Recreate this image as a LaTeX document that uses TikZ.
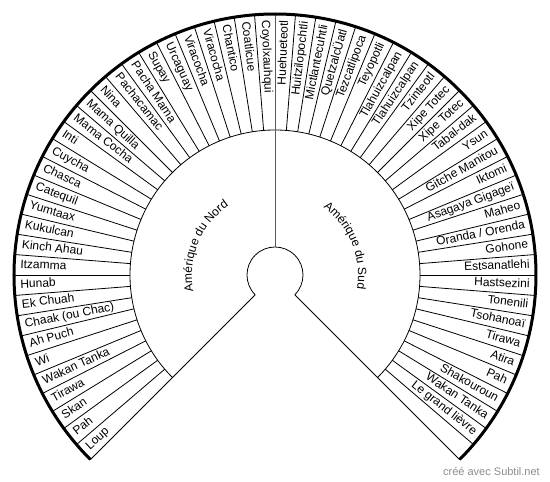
\documentclass[tikz,border=0pt]{standalone}
\usepackage{fontspec}
\setmainfont{Liberation Sans}
\usetikzlibrary{decorations.text}
\begin{document}
\begin{tikzpicture}[x=1pt,y=1pt,
  ring/.style={line width=0.8pt, black},
  axis/.style={line width=0.9pt, black!65},
  outerarc/.style={line width=3pt, black},
  namefont/.style={inner sep=0pt, text height=8.6pt, text depth=2.4pt, font=\fontsize{12}{14}\selectfont},
  lname/.style={namefont, anchor=west},
  rname/.style={namefont, anchor=east},
]
\useasboundingbox (-275,-207) rectangle (275,275);
\def\Ro{261}
\def\Rm{145}
\def\Ri{28}
\def\Rt{255}
% inner circle and inner ring boundary
\draw[ring] (-45:\Ri) arc[start angle=-45, end angle=225, radius=\Ri];
\draw[ring] (-45:\Rm) arc[start angle=-45, end angle=225, radius=\Rm];
% main dividing lines
\draw[axis] (90:\Ri) -- (90:\Ro);
\draw[ring] (225:\Ri) -- (225:\Ro);
\draw[ring] (-45:\Ri) -- (-45:\Ro);
% name ring radial lines
\foreach \i in {1,...,29} {
  \draw[ring] ({90+4.5*\i}:\Rm) -- ({90+4.5*\i}:\Ro);
  \draw[ring] ({90-4.5*\i}:\Rm) -- ({90-4.5*\i}:\Ro);
}
% outer arc
\draw[outerarc] (-45:\Ro) arc[start angle=-45, end angle=225, radius=\Ro];
% left names
\foreach \n [count=\i] in {Coyolxauhqui, Coatlicue, Chantico, Viracocha, Viracocha, Urcaguay, Supay, Pacha Mama, Pachacamac, Nina, Mama Quilla, Mama Cocha, Inti, Cuycha, Chasca, Catequil, Yumtaax, Kukulcan, Kinch Ahau, Itzamma, Hunab, Ek Chuah, Chaak (ou Chac), Ah Puch, Wi, Wakan Tanka, Tirawa, Skan, Pah, Loup} {
  \pgfmathsetmacro{\a}{87.75+4.5*\i}
  \node[lname, rotate=\a-180] (l\i) at (\a:\Rt) {\n};
}
% right names
\foreach \n [count=\i] in {Huehueteotl, Huitzilopochtli, Mictlantecuhtli, QuetzalcÜatl, Tezcatlipoca, Teyopotli, Tlahuizcalpan, Tlahuizcalpan, Tzinteotl, Xipe Totec, Xipe Totec, Tabal-dak, Ysun, Gitche Manitou, Iktomi, Asagaya Gigageï, Maheo, Oranda / Orenda, Gohone, Estsanatlehi, Hastsezini, Tonenili, Tsohanoaï, Tirawa, Atira, Pah, Shakouroun, Wakan Tanka, Le grand lièvre} {
  \pgfmathsetmacro{\a}{92.25-4.5*\i}
  \node[rname, rotate=\a] (r\i) at (\a:\Rt) {\n};
}
% sector labels
\path[decorate, decoration={text along path, text align=center,
  text={|\fontsize{12}{14}\selectfont|Amérique du Nord}}]
  (225:83) arc[start angle=225, end angle=90, radius=83];
\path[decorate, decoration={text along path, text align=center,
  text={|\fontsize{12}{14}\selectfont|Amérique du Sud}}]
  (90:83) arc[start angle=90, end angle=-45, radius=83];
% credit
\node[anchor=east, inner sep=0pt, text=black!45, font=\fontsize{11}{13}\selectfont] (credit) at (265,-197) {créé avec Subtil.net};
\end{tikzpicture}
\end{document}
